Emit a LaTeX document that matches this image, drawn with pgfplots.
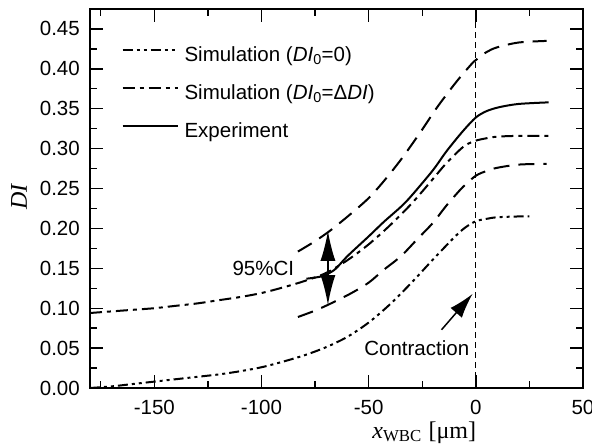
\documentclass[border=0pt]{standalone}
\usepackage{fontspec}
\setmainfont{Liberation Sans}
\newfontfamily\serif{Liberation Serif}
\usepackage{pgfplots}
\pgfplotsset{compat=1.18}
\usetikzlibrary{arrows.meta}
\begin{document}
\begin{tikzpicture}[font=\fontsize{20.5bp}{24bp}\selectfont]
\begin{axis}[
  width=493bp, height=379bp, scale only axis,
  xmin=-180, xmax=50, ymin=0, ymax=0.475,
  xtick={-150,-100,-50,0,50},
  xticklabels={-150,-100,-50,0,50},
  minor xtick={-175,-125,-75,-25,25},
  ytick={0,0.05,0.10,0.15,0.20,0.25,0.30,0.35,0.40,0.45},
  yticklabels={0.00,0.05,0.10,0.15,0.20,0.25,0.30,0.35,0.40,0.45},
  minor ytick={0.025,0.075,0.125,0.175,0.225,0.275,0.325,0.375,0.425},
  tick align=inside,
  major tick length=13bp, minor tick length=7bp,
  every tick/.style={black, line width=1.4bp},
  axis line style={line width=1.6bp},
  yticklabel style={inner sep=0pt, xshift=-10bp},
  xticklabel style={inner sep=0pt, yshift=-12bp},
  xlabel={{\serif\itshape x}\textsubscript{\serif WBC} {\serif [μm]}},
  ylabel={\serif\itshape DI},
  xlabel style={at={(axis description cs:0.678,0)}, anchor=base, yshift=-50bp, inner sep=0pt, font=\fontsize{24bp}{28bp}\selectfont},
  ylabel style={at={(axis description cs:0,0.504)}, anchor=center, yshift=71bp, inner sep=0pt, font=\fontsize{24bp}{28bp}\selectfont},
  legend cell align=left,
  legend style={draw=none, fill=none, at={(axis description cs:0.0575,0.908)}, anchor=north west,
    row sep=18bp, column sep=6bp,
    nodes={inner sep=0pt, text height=15bp, text depth=5bp}},
  legend image code/.code={\draw[#1] (0bp,6bp) -- (55bp,6bp);},
]
% Simulation DI0=0 (dash-dot-dot)
\addplot[line width=2bp, smooth, dash pattern=on 10bp off 4bp on 3bp off 4bp on 3bp off 4bp] coordinates {
(-180,0.000) (-170,0.002) (-160,0.005) (-150,0.008) (-140,0.011) (-130,0.014)
(-120,0.017) (-110,0.021) (-100,0.026) (-90,0.033) (-80,0.041) (-70,0.051)
(-60,0.064) (-50,0.082) (-40,0.105) (-30,0.132) (-20,0.161) (-10,0.189)
(-5,0.201) (0,0.209) (5,0.212) (10,0.214) (20,0.215) (25,0.215)};
\addlegendentry{Simulation (\textit{DI}\textsubscript{0}=0)}
% Simulation DI0=dDI (dash-dot)
\addplot[line width=2bp, smooth, dash pattern=on 12bp off 5bp on 4bp off 5bp] coordinates {
(-180,0.094) (-170,0.096) (-160,0.098) (-150,0.100) (-140,0.103) (-130,0.106)
(-120,0.110) (-110,0.114) (-100,0.119) (-90,0.126) (-80,0.134) (-70,0.144)
(-60,0.160) (-50,0.180) (-40,0.204) (-30,0.231) (-20,0.262) (-15,0.278)
(-10,0.292) (-5,0.304) (0,0.310) (5,0.313) (10,0.315) (20,0.316) (36,0.316)};
\addlegendentry{Simulation (\textit{DI}\textsubscript{0}=Δ\textit{DI})}
% Experiment (solid)
\addplot[line width=2bp, smooth] coordinates {
(-79,0.137) (-72,0.140) (-66,0.148) (-60,0.165) (-50,0.190) (-43,0.208)
(-35,0.227) (-30,0.241) (-20,0.273) (-13.6,0.297) (-6,0.322) (0,0.339)
(5,0.347) (11,0.352) (20,0.356) (34,0.358)};
\addlegendentry{Experiment}
% CI upper
\addplot[forget plot, line width=2bp, smooth, dash pattern=on 16bp off 9bp] coordinates {
(-83,0.171) (-75,0.184) (-67.6,0.198) (-58,0.219) (-50,0.238) (-43,0.259)
(-35,0.286) (-26,0.320) (-18,0.352) (-9,0.384) (-2,0.406) (0,0.411)
(5,0.421) (10,0.427) (20,0.433) (33,0.435)};
% CI lower
\addplot[forget plot, line width=2bp, smooth, dash pattern=on 16bp off 9bp] coordinates {
(-83,0.089) (-75,0.097) (-67.6,0.106) (-58,0.119) (-50,0.132) (-43,0.148)
(-35,0.165) (-27.5,0.186) (-20,0.207) (-13.6,0.229) (-6,0.252) (0,0.266)
(5,0.272) (10,0.276) (20,0.280) (33,0.281)};
% vertical dashed line
\draw[line width=1bp, dash pattern=on 6bp off 4bp] (axis cs:0,0) -- (axis cs:0,0.475);
% CI arrow
\draw[line width=1.5bp, {Latex[length=30bp,width=15bp]}-{Latex[length=30bp,width=15bp]}] (axis cs:-69,0.104) -- (axis cs:-69,0.197);
\node[anchor=east, inner sep=0pt] at (axis cs:-84.7,0.150) {95\%CI};
% Contraction arrow
\draw[line width=1.5bp, -{Latex[length=25bp,width=15bp]}] (axis cs:-16,0.073) -- (axis cs:-1.5,0.118);
\node[anchor=east, inner sep=0pt] at (axis cs:-3,0.050) {Contraction};
\end{axis}
\pgfresetboundingbox
\path[use as bounding box] ([shift={(-90bp,-60bp)}]current axis.south west) rectangle ([shift={(9bp,9bp)}]current axis.north east);
\end{tikzpicture}
\end{document}
